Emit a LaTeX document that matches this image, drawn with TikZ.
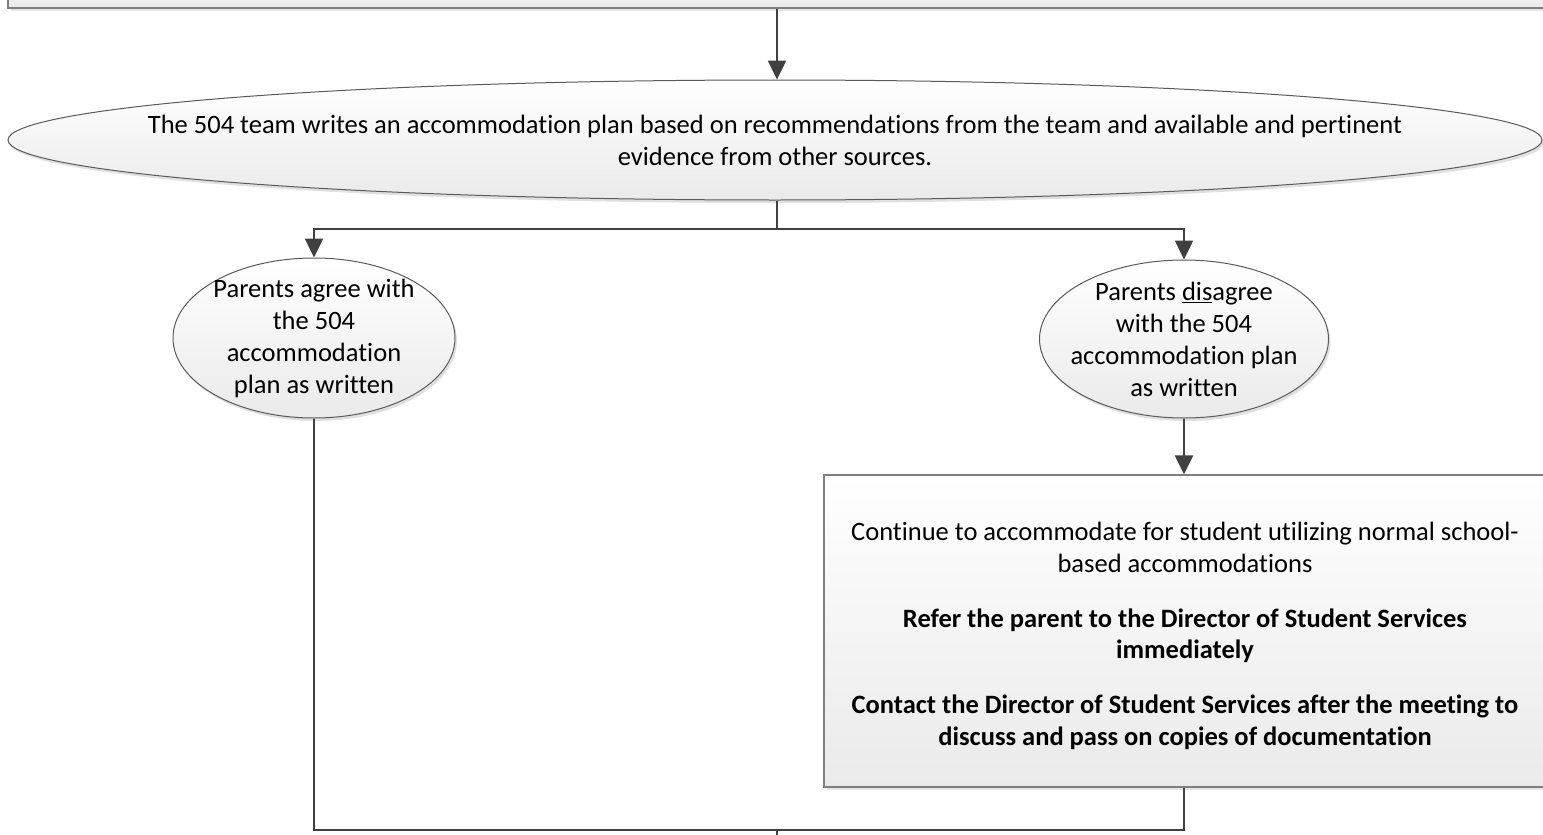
\documentclass[tikz,border=0pt]{standalone}
\usepackage{fontspec}
\setmainfont{Carlito}[Ligatures=NoCommon]
\usetikzlibrary{arrows.meta,shapes.geometric,shadows}

\definecolor{linegray}{HTML}{404040}
\definecolor{edgegray}{HTML}{5A5A5A}
\definecolor{boxedge}{HTML}{7F7F7F}
\definecolor{fillbot}{HTML}{EAEAEA}

\tikzset{
  flow/.style={draw=linegray, line width=2.5pt, line join=miter,
               -{Triangle[length=19pt,width=18pt]}},
  flowplain/.style={draw=linegray, line width=2.5pt, line join=miter},
  bubble/.style={ellipse, draw=edgegray, line width=1pt,
                 inner xsep=-30pt, inner ysep=-15pt,
                 top color=white, bottom color=fillbot, align=center,
                 drop shadow={shadow xshift=2pt, shadow yshift=-3pt, fill=black!12, opacity=1}},
  panel/.style={rectangle, draw=boxedge, line width=1.4pt, inner sep=0pt,
                top color=white, bottom color=fillbot,
                drop shadow={shadow xshift=3pt, shadow yshift=-3pt, fill=black!10, opacity=1}},
  paneltext/.style={align=center, inner sep=0pt, font=\fontsize{26.5}{31.5}\selectfont},
}

\begin{document}
\begin{tikzpicture}[x=1pt, y=-1pt, font=\fontsize{26.5}{32}\selectfont]
  \useasboundingbox (0,0) rectangle (1543,835);
  \begin{scope}
    \clip (0,0) rectangle (1543,835);

    % box left over from the previous step
    \node[panel, minimum width=1538pt, minimum height=60pt] (prev) at (777,-22) {};

    % plan written by the team
    \node[bubble, inner xsep=-120pt, inner ysep=-5pt,
          minimum width=1534pt, minimum height=120pt] (plan) at (775,140)
      {The 504 team writes an accommodation plan based on recommendations from the team and available and pertinent\\evidence from other sources.};

    % the two outcomes
    \node[bubble, minimum width=282pt, minimum height=160pt] (agree) at (314,338)
      {Parents agree with\\the 504\\accommodation\\plan as written};
    \node[bubble, minimum width=289pt, minimum height=158pt] (disagree) at (1184,339)
      {Parents \underline{dis}agree\\with the 504\\accommodation plan\\as written};

    % action list for disagreement
    \node[panel, minimum width=722pt, minimum height=312pt] (actions) at (1185,631) {};
    \node[paneltext, yshift=-5pt] (actionstext) at (actions.center)
      {Continue to accommodate for student utilizing normal school-\\based accommodations\\[23.5pt]
       \textbf{Refer the parent to the Director of Student Services}\\\textbf{immediately}\\[23.5pt]
       \textbf{Contact the Director of Student Services after the meeting to}\\\textbf{discuss and pass on copies of documentation}};

    \coordinate (split) at (777,229);
    \coordinate (merge) at (777,830);
    \coordinate (onward) at (777,850);

    % connectors
    \draw[flow] (prev.south -| split) -- (split |- plan.north);
    \draw[flowplain] (split |- plan.south) -- (split);
    \draw[flow] (split) -| (agree.north);
    \draw[flow] (split) -| (disagree.north);
    \draw[flow] (disagree.south) -- (disagree.south |- actions.north);
    \draw[flowplain] (agree.south) |- (merge);
    \draw[flowplain] (actions.south -| disagree.south) |- (merge);
    \draw[flowplain] (merge) -- (onward);
  \end{scope}
\end{tikzpicture}
\end{document}
